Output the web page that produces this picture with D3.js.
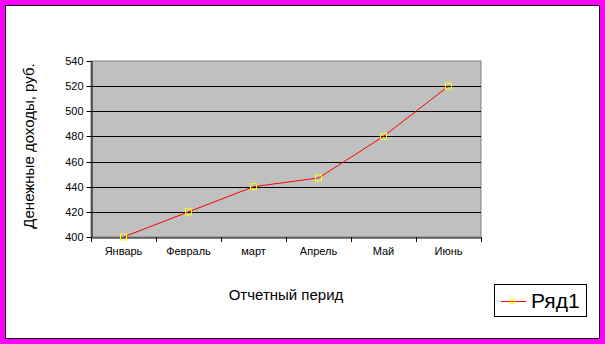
<!DOCTYPE html>
<html><head><meta charset="utf-8">
<script src="https://cdn.jsdelivr.net/npm/d3@7"></script>
<style>html,body{margin:0;padding:0;background:#fff;}svg{display:block;}</style>
</head><body>
<script>
const categories = ["Январь","Февраль","март","Апрель","Май","Июнь"];
const values = [400, 420, 440, 447, 480, 520];
const yTicks = [400, 420, 440, 460, 480, 500, 520, 540];
const seriesName = "Ряд1";
const yTitle = "Денежные доходы, руб.";
const xTitle = "Отчетный перид";

const W = 605, H = 344;
const svg = d3.select("body").append("svg").attr("width", W).attr("height", H);
svg.append("rect").attr("x",0).attr("y",0).attr("width",W).attr("height",H).attr("fill","#ff00ff");
svg.append("rect").attr("x",5.5).attr("y",5.5).attr("width",W-11).attr("height",H-11)
  .attr("fill","#fff").attr("stroke","#000").attr("stroke-width",1);

const L = 91, R = 481, T = 61, B = 237;
const x = d3.scaleBand().domain(categories).range([L, R]);
const y = d3.scaleLinear().domain([400, 540]).range([B, T]);

svg.append("rect").attr("x",L).attr("y",T).attr("width",R-L).attr("height",B-T)
  .attr("fill","#c0c0c0").attr("stroke","#808080");

svg.append("g").selectAll("line").data(yTicks.slice(1,-1)).join("line")
  .attr("x1",L).attr("x2",R).attr("y1",d=>Math.round(y(d))+0.5).attr("y2",d=>Math.round(y(d))+0.5)
  .attr("stroke","#000");

const yAxis = svg.append("g").attr("transform",`translate(${L+0.5},0)`)
  .call(d3.axisLeft(y).tickValues(yTicks).tickSize(5).tickPadding(3).tickSizeOuter(0));
yAxis.select(".domain").attr("stroke","#000");
yAxis.selectAll("text").attr("font-family","Arial, 'Liberation Sans', sans-serif").attr("font-size",11).attr("fill","#000");
yAxis.selectAll(".tick line").each(function(d){ d3.select(this.parentNode).attr("transform",`translate(0,${Math.round(y(d))+0.5})`); });

const xAxis = svg.append("g").attr("transform",`translate(0,${B+0.5})`)
  .call(d3.axisBottom(x).tickSize(0).tickPadding(10));
xAxis.select(".domain").attr("stroke","#000");
xAxis.selectAll("text").attr("font-family","Arial, 'Liberation Sans', sans-serif").attr("font-size",11).attr("fill","#000");
const bounds = categories.map(c=>x(c)).concat([x(categories[categories.length-1])+x.bandwidth()]);
svg.append("g").selectAll("line").data(bounds).join("line")
  .attr("x1",d=>Math.round(d)+0.5).attr("x2",d=>Math.round(d)+0.5).attr("y1",B).attr("y2",B+5)
  .attr("stroke","#000");

const cx = d => x(d) + x.bandwidth()/2;
const line = d3.line().x((d,i)=>cx(categories[i])).y(d=>y(d));
svg.append("path").datum(values).attr("d",line).attr("fill","none").attr("stroke","#ff0000").attr("stroke-width",1);
svg.append("g").selectAll("rect").data(values).join("rect")
  .attr("x",(d,i)=>cx(categories[i])-3).attr("y",d=>y(d)-3).attr("width",6).attr("height",6)
  .attr("fill","none").attr("stroke","#ffff00").attr("stroke-width",1);

svg.append("text").attr("transform",`translate(34,146) rotate(-90)`).attr("text-anchor","middle")
  .attr("font-family","Arial, 'Liberation Sans', sans-serif").attr("font-size",15).text(yTitle);
svg.append("text").attr("x",(L+R)/2).attr("y",300).attr("text-anchor","middle")
  .attr("font-family","Arial, 'Liberation Sans', sans-serif").attr("font-size",15).text(xTitle);

const lg = svg.append("g");
lg.append("rect").attr("x",494.5).attr("y",284.5).attr("width",92).attr("height",32).attr("fill","#fff").attr("stroke","#000");
lg.append("line").attr("x1",501).attr("x2",526).attr("y1",301.5).attr("y2",301.5).attr("stroke","#ff0000");
lg.append("rect").attr("x",510.5).attr("y",299.5).attr("width",4).attr("height",4).attr("fill","none").attr("stroke","#ffff00");
lg.append("text").attr("x",531).attr("y",308).attr("font-family","Arial, 'Liberation Sans', sans-serif")
  .attr("font-size",21).text(seriesName);
</script>
</body></html>
